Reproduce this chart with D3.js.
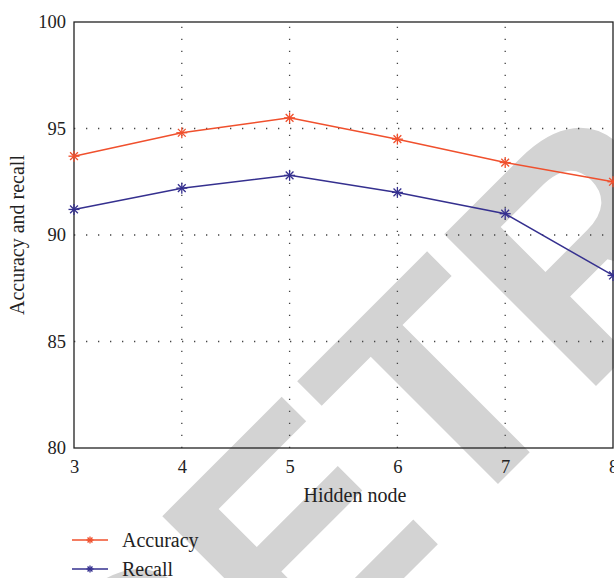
<!DOCTYPE html>
<html><head><meta charset="utf-8">
<script src="https://cdn.jsdelivr.net/npm/d3@7"></script>
<style>body{margin:0;background:#fff}svg{display:block}</style>
</head><body>
<script>
const hiddenNodes = [3, 4, 5, 6, 7, 8];
const accuracy = [93.7, 94.8, 95.5, 94.5, 93.4, 92.5];
const recall = [91.2, 92.2, 92.8, 92.0, 91.0, 88.1];
const yTicks = [80, 85, 90, 95, 100];
const seriesNames = ["Accuracy", "Recall"];
const seriesColors = ["#f0502d", "#35308f"];

const W = 614, H = 578;
const m = {left: 74, right: 613, top: 22, bottom: 448};
const svg = d3.select("body").append("svg").attr("width", W).attr("height", H);
const serif = "'Liberation Serif', 'DejaVu Serif', serif";

// watermark
svg.append("text")
  .attr("transform", "translate(140,842) rotate(-45)")
  .attr("font-family", "'Liberation Sans', Arial, sans-serif")
  .attr("font-weight", "bold")
  .attr("font-size", 312)
  .attr("fill", "#d3d3d3")
  .text("RETRACTED");

const x = d3.scaleLinear().domain([3, 8]).range([m.left, m.right]);
const y = d3.scaleLinear().domain([80, 100]).range([m.bottom, m.top]);

// grid
const grid = svg.append("g").attr("stroke", "#444").attr("stroke-width", 1.3).attr("stroke-dasharray", "1.3,10.7");
grid.selectAll("line.v").data(hiddenNodes.slice(1, -1)).join("line")
  .attr("x1", d => x(d)).attr("x2", d => x(d)).attr("y1", m.bottom).attr("y2", m.top);
grid.selectAll("line.h").data(yTicks.slice(1, -1)).join("line")
  .attr("y1", d => y(d)).attr("y2", d => y(d)).attr("x1", m.left).attr("x2", m.right);

// frame
svg.append("rect").attr("x", m.left).attr("y", m.top).attr("width", m.right - m.left).attr("height", m.bottom - m.top)
  .attr("fill", "none").attr("stroke", "#222").attr("stroke-width", 1.3);

// axes tick labels
const xAxis = d3.axisBottom(x).tickValues(hiddenNodes).tickSize(0).tickPadding(12).tickFormat(d3.format("d"));
const gx = svg.append("g").attr("transform", `translate(0,${m.bottom})`).call(xAxis);
gx.select(".domain").remove();
gx.selectAll("text").attr("font-family", serif).attr("font-size", 18.5).attr("fill", "#222");
const yAxis = d3.axisLeft(y).tickValues(yTicks).tickSize(0).tickPadding(8);
const gy = svg.append("g").attr("transform", `translate(${m.left},0)`).call(yAxis);
gy.select(".domain").remove();
gy.selectAll("text").attr("font-family", serif).attr("font-size", 18.5).attr("fill", "#222");

svg.append("text").attr("x", 355).attr("y", 502).attr("text-anchor", "middle")
  .attr("font-family", serif).attr("font-size", 20).attr("fill", "#222").text("Hidden node");
svg.append("text").attr("transform", "translate(24,235) rotate(-90)").attr("text-anchor", "middle")
  .attr("font-family", serif).attr("font-size", 20).attr("fill", "#222").text("Accuracy and recall");

function star(g, cx, cy, r, color) {
  for (let a = 0; a < 180; a += 45) {
    const rad = a * Math.PI / 180;
    g.append("line").attr("x1", cx - r * Math.cos(rad)).attr("y1", cy - r * Math.sin(rad))
      .attr("x2", cx + r * Math.cos(rad)).attr("y2", cy + r * Math.sin(rad))
      .attr("stroke", color).attr("stroke-width", 1.3);
  }
}

const line = d3.line().x((d, i) => x(hiddenNodes[i])).y(d => y(d));
[accuracy, recall].forEach((vals, k) => {
  const g = svg.append("g");
  g.append("path").attr("d", line(vals)).attr("fill", "none").attr("stroke", seriesColors[k]).attr("stroke-width", 1.5);
  vals.forEach((v, i) => star(g, x(hiddenNodes[i]), y(v), 5.5, seriesColors[k]));
});

// legend
seriesNames.forEach((name, k) => {
  const ly = 540 + k * 29;
  const g = svg.append("g");
  g.append("line").attr("x1", 72).attr("x2", 108).attr("y1", ly).attr("y2", ly).attr("stroke", seriesColors[k]).attr("stroke-width", 1.5);
  star(g, 90, ly, 3.5, seriesColors[k]);
  g.append("text").attr("x", 122).attr("y", ly + 7).attr("font-family", serif).attr("font-size", 20).attr("fill", "#222").text(name);
});
</script>
</body></html>
